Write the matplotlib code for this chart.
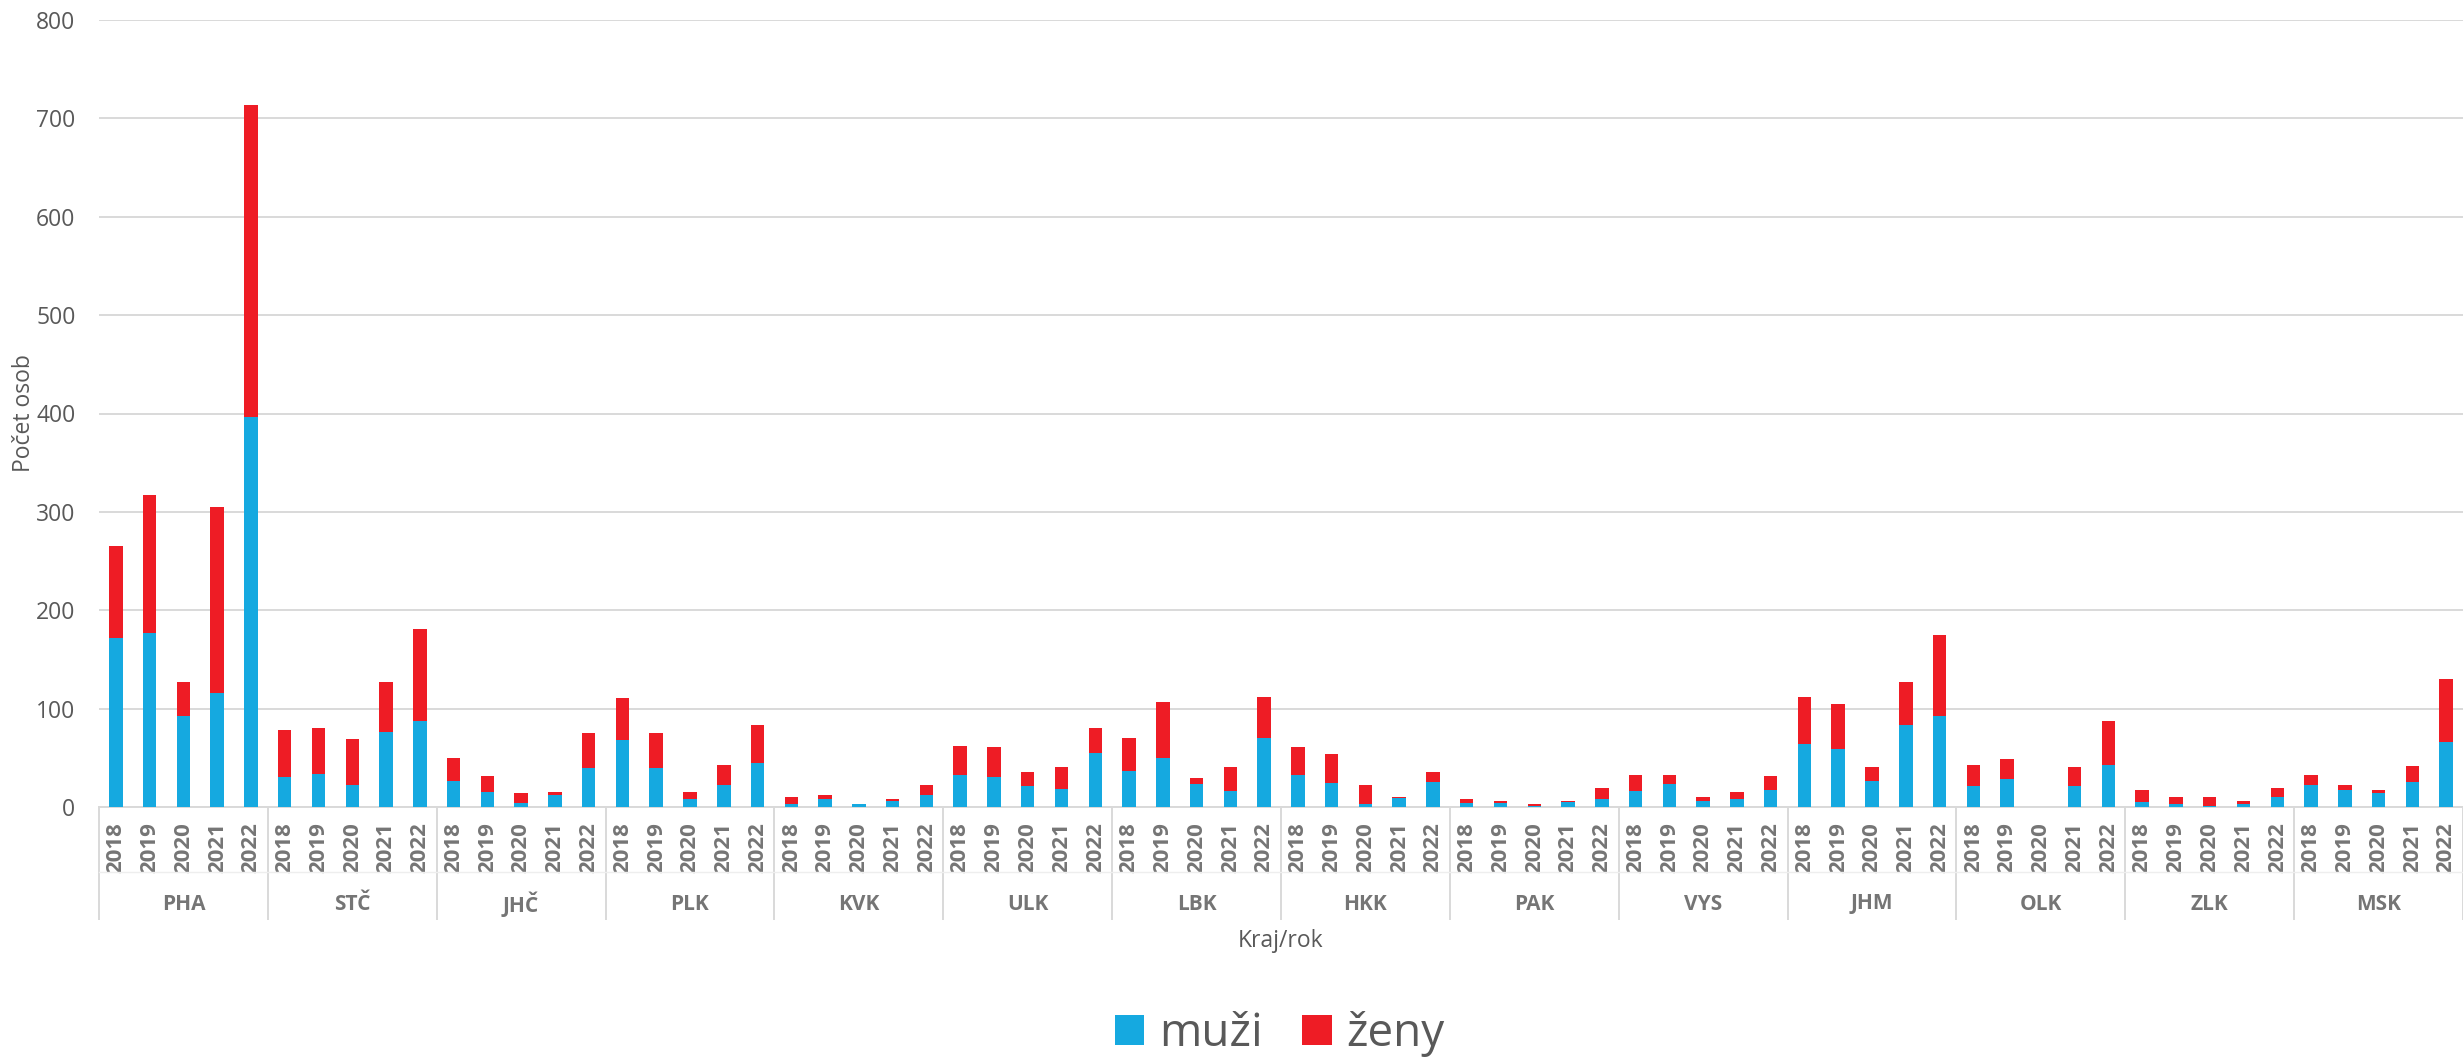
import numpy as np
import matplotlib.pyplot as plt
import matplotlib.transforms as mtransforms

plt.rcParams['font.family'] = ['Open Sans', 'DejaVu Sans']

#%% data
kraje = ['PHA', 'STČ', 'JHČ', 'PLK', 'KVK', 'ULK', 'LBK',
         'HKK', 'PAK', 'VYS', 'JHM', 'OLK', 'ZLK', 'MSK']
roky = ['2018', '2019', '2020', '2021', '2022']

muzi = [172, 177, 93, 116, 396,
        31, 34, 22, 76, 87,
        26, 15, 4, 12, 40,
        68, 40, 8, 22, 45,
        3, 8, 3, 6, 12,
        33, 30, 21, 18, 55,
        37, 50, 23, 16, 70,
        33, 24, 3, 9, 25,
        4, 4, 1, 5, 8,
        16, 23, 6, 8, 17,
        64, 59, 26, 83, 92,
        21, 28, 0, 21, 43,
        5, 3, 1, 3, 10,
        22, 17, 14, 25, 66]
zeny = [93, 140, 34, 189, 318,
        47, 46, 47, 51, 94,
        24, 17, 10, 3, 35,
        43, 35, 7, 21, 38,
        7, 4, 0, 2, 10,
        29, 31, 15, 23, 25,
        33, 57, 6, 25, 42,
        28, 30, 19, 1, 11,
        4, 2, 2, 1, 11,
        17, 10, 4, 7, 15,
        48, 46, 15, 44, 83,
        22, 21, 0, 20, 44,
        12, 7, 9, 3, 9,
        11, 5, 3, 17, 64]

#%% plot
W, H = 2463, 1059
fig = plt.figure(figsize=(W / 100, H / 100), dpi=100)
ax = fig.add_axes([99 / W, 1 - 807 / H, 1 - 99 / W, (807 - 20) / H])

x = np.arange(len(muzi))
blue, red = '#15a9e0', '#ee1c25'
ax.bar(x, muzi, width=0.4, color=blue, label='muži', zorder=3)
ax.bar(x, zeny, width=0.4, bottom=muzi, color=red, label='ženy', zorder=3)

ax.set_xlim(-0.5, len(muzi) - 0.5)
ax.set_ylim(0, 800)
ax.set_yticks(np.arange(0, 801, 100))
ax.yaxis.grid(True, color='#d9d9d9', linewidth=1.4, zorder=0)
for s in ['top', 'right', 'left']:
    ax.spines[s].set_visible(False)
ax.spines['bottom'].set_color('#d9d9d9')
ax.spines['bottom'].set_linewidth(1.4)

ax.set_xticks(x)
ax.set_xticklabels(roky * len(kraje), rotation=90, fontsize=16,
                   fontweight='bold', color='#757575')
ax.tick_params(axis='x', length=0, pad=11)
ax.tick_params(axis='y', length=0, pad=17, labelsize=16.5, labelcolor='#595959')

# group separators, level line and region labels
trans = mtransforms.blended_transform_factory(ax.transData, ax.transAxes)
for i in range(len(kraje) + 1):
    ax.plot([i * 5 - 0.5] * 2, [0, -(919 - 807) / 787], transform=trans,
            color='#d9d9d9', linewidth=1.4, clip_on=False)
ax.plot([-0.5, len(muzi) - 0.5], [-(872 - 807) / 787] * 2, transform=trans,
        color='#eeeeee', linewidth=1.0, clip_on=False)
for i, k in enumerate(kraje):
    ax.text(i * 5 + 2, -(904 - 807) / 787, k, transform=trans, ha='center',
            va='center', fontsize=15, fontweight='bold', color='#757575')

fig.text(0.5 * (1 + 99 / W), 1 - 941 / H, 'Kraj/rok', ha='center', va='center',
         fontsize=16.5, color='#595959')
fig.text(24 / W, 1 - 413 / H, 'Počet osob', rotation=90, ha='center',
         va='center', fontsize=16.5, color='#595959')

fig.legend(loc='center', bbox_to_anchor=(1280 / W, 1 - 1034 / H), ncol=2,
           frameon=False, fontsize=33, labelcolor='#595959',
           handlelength=0.64, handleheight=0.64, handletextpad=0.33,
           columnspacing=0.85, borderpad=0.1)

fig.savefig('out.png', dpi=100)
